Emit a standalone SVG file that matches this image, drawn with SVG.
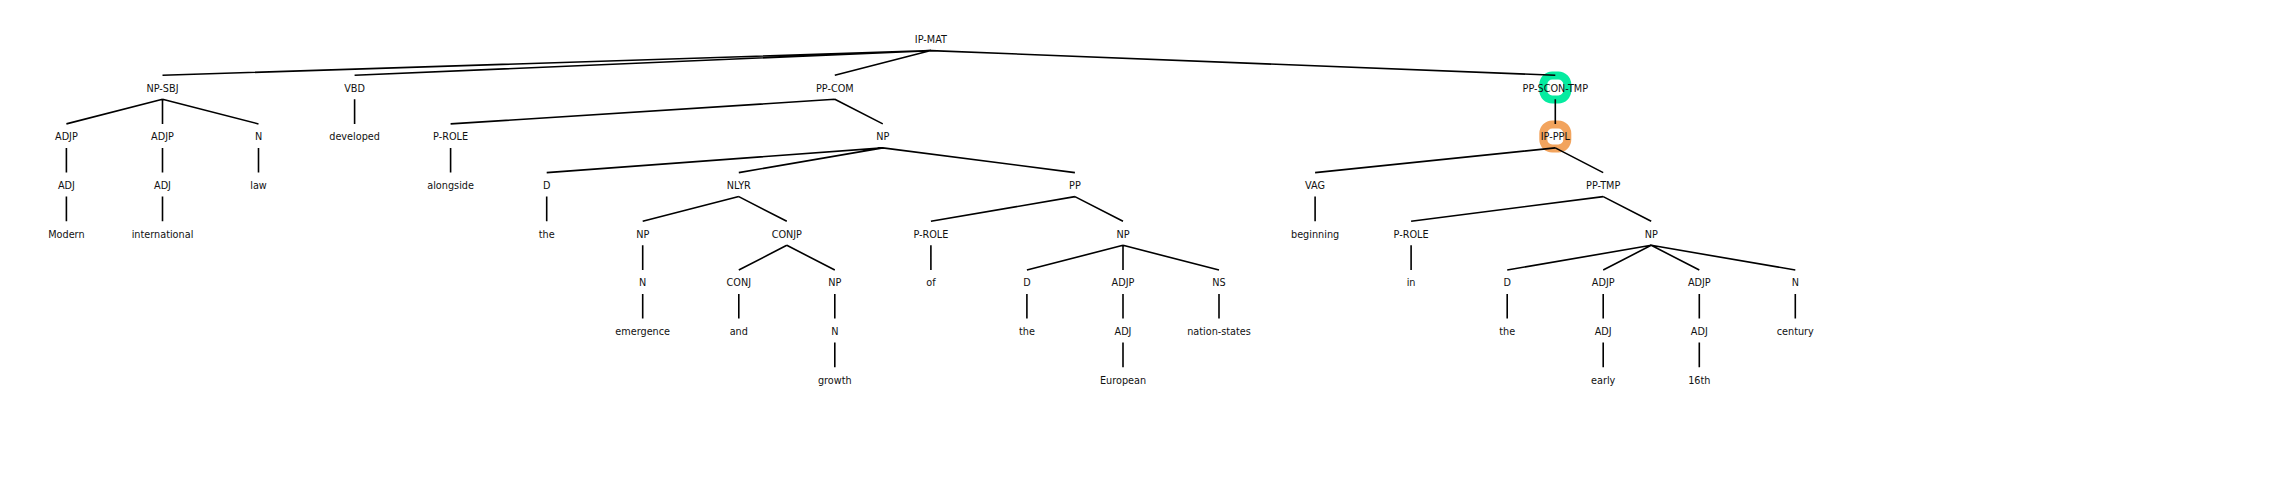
<svg xmlns="http://www.w3.org/2000/svg" width="2280" height="488" viewBox="0 0 2280 488">
<style>
text{font-family:"DejaVu Sans","Liberation Sans",sans-serif;font-size:9.7px;fill:#111;text-anchor:middle}
.e{stroke:#000;stroke-width:1.6;fill:none}
.ring{fill:none;stroke-width:8}
</style>
<rect width="2280" height="488" fill="#fff"/>
<g id="highlights">
<rect class="ring" x="1543.3" y="75.5" width="24" height="24" rx="9" stroke="#05EBA0"/>
<rect class="ring" x="1543.3" y="124.5" width="24" height="24" rx="9" stroke="#F2A45E"/>
</g>
<g id="connectors" class="e">
<path d="M930.9 50.6L162.5 75.3M930.9 50.6L354.6 75.3M930.9 50.6L834.8 75.3M930.9 50.6L1555.3 75.3"/>
<path d="M162.5 99.3L66.4 123.9M162.5 99.3L162.5 123.9M162.5 99.3L258.5 123.9M354.6 99.3L354.6 123.9M834.8 99.3L450.6 123.9M834.8 99.3L882.8 123.9M1555.3 99.3L1555.3 123.9"/>
<path d="M66.4 147.9L66.4 172.6M162.5 147.9L162.5 172.6M258.5 147.9L258.5 172.6M450.6 147.9L450.6 172.6M882.8 147.9L546.7 172.6M882.8 147.9L738.8 172.6M882.8 147.9L1074.9 172.6M1555.3 147.9L1315.1 172.6M1555.3 147.9L1603.2 172.6"/>
<path d="M66.4 196.6L66.4 221.3M162.5 196.6L162.5 221.3M546.7 196.6L546.7 221.3M738.8 196.6L642.7 221.3M738.8 196.6L786.8 221.3M1074.9 196.6L930.9 221.3M1074.9 196.6L1123 221.3M1315.1 196.6L1315.1 221.3M1603.2 196.6L1411.1 221.3M1603.2 196.6L1651.2 221.3"/>
<path d="M642.7 245.3L642.7 270M786.8 245.3L738.8 270M786.8 245.3L834.8 270M930.9 245.3L930.9 270M1123 245.3L1026.9 270M1123 245.3L1123 270M1123 245.3L1219 270M1411.1 245.3L1411.1 270M1651.2 245.3L1507.2 270M1651.2 245.3L1603.2 270M1651.2 245.3L1699.3 270M1651.2 245.3L1795.3 270"/>
<path d="M642.7 294L642.7 318.6M738.8 294L738.8 318.6M834.8 294L834.8 318.6M1026.9 294L1026.9 318.6M1123 294L1123 318.6M1219 294L1219 318.6M1507.2 294L1507.2 318.6M1603.2 294L1603.2 318.6M1699.3 294L1699.3 318.6M1795.3 294L1795.3 318.6"/>
<path d="M834.8 342.6L834.8 367.3M1123 342.6L1123 367.3M1603.2 342.6L1603.2 367.3M1699.3 342.6L1699.3 367.3"/>
</g>
<g id="n-ipmat"><text x="930.9" y="43">IP-MAT</text></g>
<g id="n-npsbj"><text x="162.5" y="91.7">NP-SBJ</text></g>
<g id="n-vbd"><text x="354.6" y="91.7">VBD</text></g>
<g id="n-ppcom"><text x="834.8" y="91.7">PP-COM</text></g>
<g id="n-ppscontmp"><text x="1555.3" y="91.7">PP-SCON-TMP</text></g>
<g id="n-adjp1"><text x="66.4" y="140.3">ADJP</text></g>
<g id="n-adjp2"><text x="162.5" y="140.3">ADJP</text></g>
<g id="n-n1"><text x="258.5" y="140.3">N</text></g>
<g id="w-developed"><text x="354.6" y="140.3">developed</text></g>
<g id="n-prole1"><text x="450.6" y="140.3">P-ROLE</text></g>
<g id="n-np1"><text x="882.8" y="140.3">NP</text></g>
<g id="n-ipppl"><text x="1555.3" y="140.3">IP-PPL</text></g>
<g id="n-adj1"><text x="66.4" y="189">ADJ</text></g>
<g id="n-adj2"><text x="162.5" y="189">ADJ</text></g>
<g id="w-law"><text x="258.5" y="189">law</text></g>
<g id="w-alongside"><text x="450.6" y="189">alongside</text></g>
<g id="n-d1"><text x="546.7" y="189">D</text></g>
<g id="n-nlyr"><text x="738.8" y="189">NLYR</text></g>
<g id="n-pp"><text x="1074.9" y="189">PP</text></g>
<g id="n-vag"><text x="1315.1" y="189">VAG</text></g>
<g id="n-pptmp"><text x="1603.2" y="189">PP-TMP</text></g>
<g id="w-modern"><text x="66.4" y="237.7">Modern</text></g>
<g id="w-international"><text x="162.5" y="237.7">international</text></g>
<g id="w-the1"><text x="546.7" y="237.7">the</text></g>
<g id="n-np2"><text x="642.7" y="237.7">NP</text></g>
<g id="n-conjp"><text x="786.8" y="237.7">CONJP</text></g>
<g id="n-prole2"><text x="930.9" y="237.7">P-ROLE</text></g>
<g id="n-np3"><text x="1123" y="237.7">NP</text></g>
<g id="w-beginning"><text x="1315.1" y="237.7">beginning</text></g>
<g id="n-prole3"><text x="1411.1" y="237.7">P-ROLE</text></g>
<g id="n-np4"><text x="1651.2" y="237.7">NP</text></g>
<g id="n-n2"><text x="642.7" y="286.4">N</text></g>
<g id="n-conj"><text x="738.8" y="286.4">CONJ</text></g>
<g id="n-np5"><text x="834.8" y="286.4">NP</text></g>
<g id="w-of"><text x="930.9" y="286.4">of</text></g>
<g id="n-d2"><text x="1026.9" y="286.4">D</text></g>
<g id="n-adjp3"><text x="1123" y="286.4">ADJP</text></g>
<g id="n-ns"><text x="1219" y="286.4">NS</text></g>
<g id="w-in"><text x="1411.1" y="286.4">in</text></g>
<g id="n-d3"><text x="1507.2" y="286.4">D</text></g>
<g id="n-adjp4"><text x="1603.2" y="286.4">ADJP</text></g>
<g id="n-adjp5"><text x="1699.3" y="286.4">ADJP</text></g>
<g id="n-n3"><text x="1795.3" y="286.4">N</text></g>
<g id="w-emergence"><text x="642.7" y="335">emergence</text></g>
<g id="w-and"><text x="738.8" y="335">and</text></g>
<g id="n-n4"><text x="834.8" y="335">N</text></g>
<g id="w-the2"><text x="1026.9" y="335">the</text></g>
<g id="n-adj3"><text x="1123" y="335">ADJ</text></g>
<g id="w-nationstates"><text x="1219" y="335">nation-states</text></g>
<g id="w-the3"><text x="1507.2" y="335">the</text></g>
<g id="n-adj4"><text x="1603.2" y="335">ADJ</text></g>
<g id="n-adj5"><text x="1699.3" y="335">ADJ</text></g>
<g id="w-century"><text x="1795.3" y="335">century</text></g>
<g id="w-growth"><text x="834.8" y="383.7">growth</text></g>
<g id="w-european"><text x="1123" y="383.7">European</text></g>
<g id="w-early"><text x="1603.2" y="383.7">early</text></g>
<g id="w-16th"><text x="1699.3" y="383.7">16th</text></g>
</svg>
